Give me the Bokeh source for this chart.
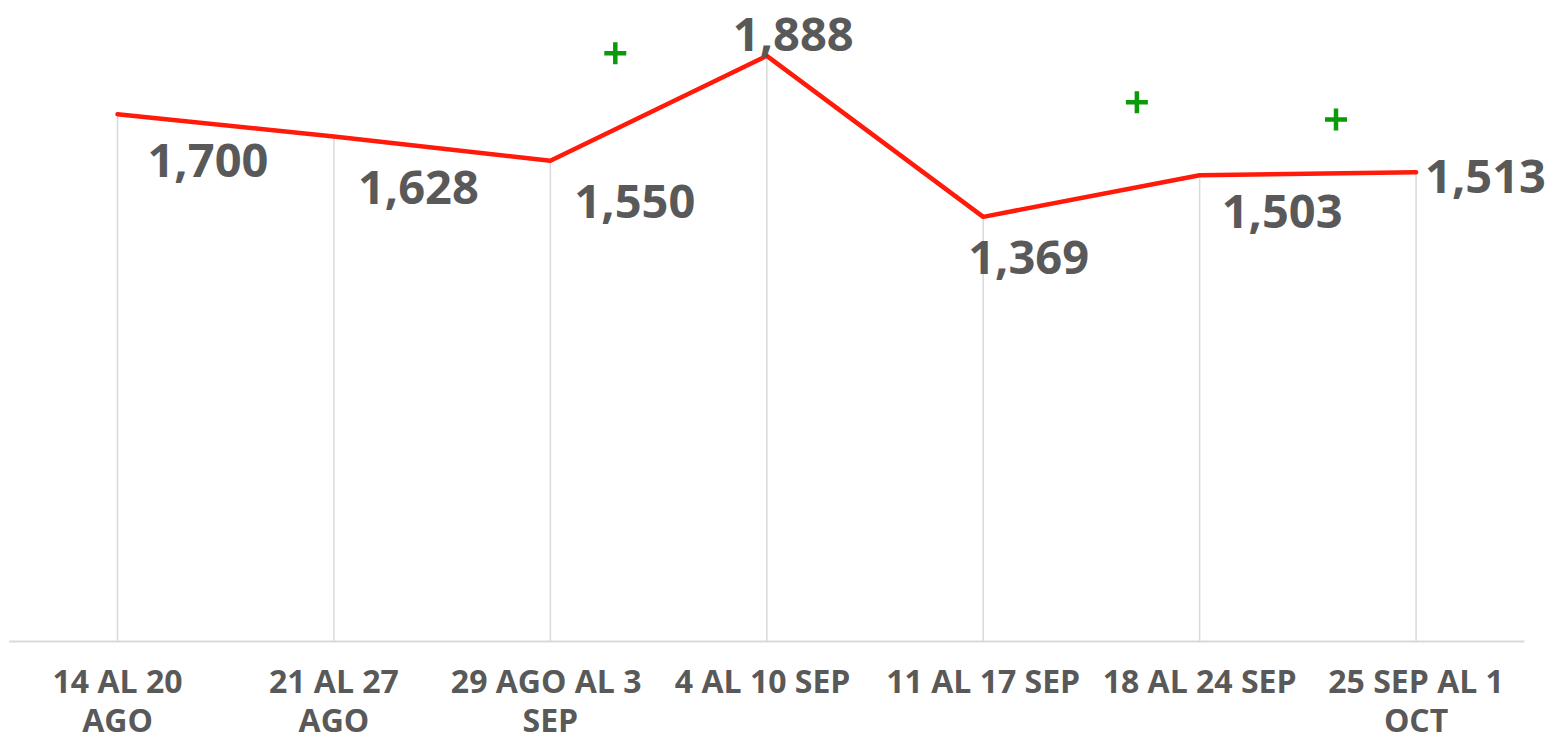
from bokeh.plotting import figure
from bokeh.models import ColumnDataSource, LabelSet, Range1d
from bokeh.core.properties import value
from bokeh.embed import file_html
from bokeh.resources import INLINE

# ---- data ----
categories = ["14 AL 20\nAGO", "21 AL 27\nAGO", "29  AGO AL 3\nSEP", "4 AL 10  SEP",
              "11 AL 17 SEP", "18 AL 24 SEP", "25 SEP AL 1\nOCT"]
values = [1700, 1628, 1550, 1888, 1369, 1503, 1513]
value_labels = ["1,700", "1,628", "1,550", "1,888", "1,369", "1,503", "1,513"]
plus_x = [2.30, 4.71, 5.63]
plus_y = [1896, 1738, 1683]

# label placement (screen px offsets from point)
lab_dx = [30, 24, 24, -34, -15, 22, 9]
lab_dy = [46, 51, 41, -21, 41, 36, 4]

xs = list(range(len(categories)))
n = len(categories)

W, H = 1554, 743
cat_px = 216.43          # pixels per category
first_px = 117           # pixel of first category from figure left
zero_px = 641            # pixel of value 0 from figure top
px_per_unit = 0.3102

x0 = -first_px / cat_px
x1 = x0 + W / cat_px
y1 = zero_px / px_per_unit
y0 = -(H - zero_px) / px_per_unit

p = figure(width=W, height=H, output_backend="svg", toolbar_location=None,
           x_range=Range1d(x0, x1), y_range=Range1d(y0, y1))
p.min_border_left = 0
p.min_border_top = 0
p.min_border_right = 0
p.min_border_bottom = 0
p.outline_line_color = None
p.background_fill_color = "white"
p.border_fill_color = "white"
p.xgrid.visible = False
p.ygrid.visible = False
p.xaxis.visible = False
p.yaxis.visible = False

# category axis baseline
p.segment(x0=[-0.5], y0=[0], x1=[n - 0.5], y1=[0], line_color="#d9d9d9", line_width=2)

# drop lines
p.segment(x0=xs, y0=[0] * n, x1=xs, y1=values, line_color="#d9d9d9", line_width=1.5)

# main line
p.line(xs, values, line_color="#ff1a0a", line_width=4.5, line_join="round", line_cap="round")

# green plus markers
p.scatter(plus_x, plus_y, marker="cross", size=22, line_width=4.5, line_color="#0a9a0a")

# data labels
src = ColumnDataSource(dict(x=xs, y=values, t=value_labels, dx=lab_dx, dy=[-d for d in lab_dy]))
labels = LabelSet(x="x", y="y", text="t", x_offset="dx", y_offset="dy", source=src,
                  text_font=value("Open Sans"), text_font_style="bold", text_font_size="47px",
                  text_color="#595959", text_align="left", text_baseline="middle")
p.add_layout(labels)

# category labels (tick labels)
csrc = ColumnDataSource(dict(x=xs, y=[0] * n, t=categories))
p.text(x="x", y="y", text="t", source=csrc, y_offset=17,
       text_font=value("Open Sans"), text_font_style="bold", text_font_size="32px",
       text_color="#595959", text_align="center", text_baseline="top", text_line_height=0.92)

open("out.html", "w").write(file_html(p, INLINE))
